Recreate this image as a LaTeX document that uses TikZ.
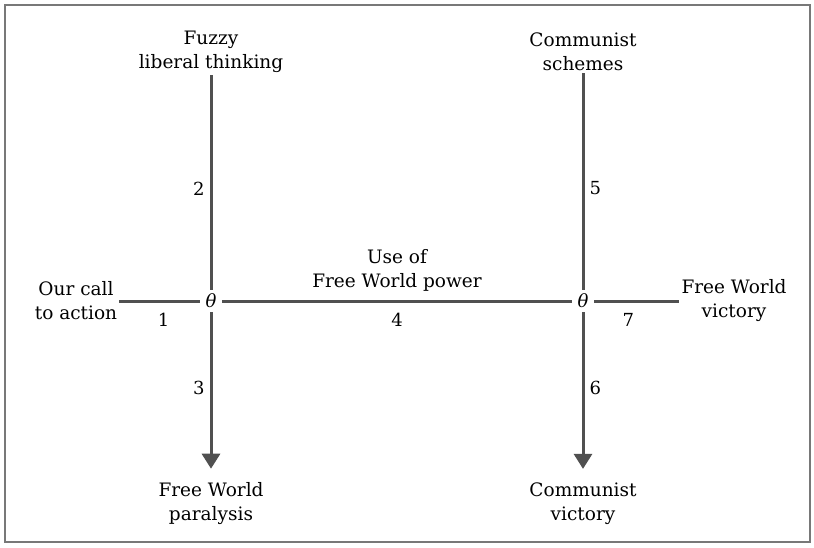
\documentclass[tikz,border=0pt]{standalone}
\usepackage{fontspec}
\setmainfont{DejaVu Serif}
\usetikzlibrary{arrows.meta,positioning}
\definecolor{inkgray}{RGB}{80,80,80}
\definecolor{framegray}{RGB}{120,120,120}

\begin{document}
\begin{tikzpicture}[x=1pt,y=-1pt,
  lbl/.style={align=center,font=\fontsize{18.5}{24}\selectfont,inner sep=2pt},
  num/.style={font=\fontsize{18}{20}\selectfont,inner sep=1pt},
  wire/.style={draw=inkgray,line width=3pt},
  arr/.style={wire,-{Triangle[length=15pt,width=18pt]},shorten >=12pt},
  junc/.style={circle,minimum size=22pt,inner sep=0pt,font=\fontsize{18}{20}\selectfont\itshape}]
\useasboundingbox (0,0) rectangle (814,547);
\draw[framegray,line width=1.5pt] (5,5) rectangle (810,542);

% junctions
\node[junc] (jl) at (211,301) {θ};
\node[junc] (jr) at (583,301) {θ};

% end labels
\node[lbl] (fuzzy) at (211,52) {Fuzzy\\liberal thinking};
\node[lbl] (schemes) at (583,52) {Communist\\schemes};
\node[lbl] (call) at (76,301) {Our call\\to action};
\node[lbl] (fwvic) at (734,301) {Free World\\victory};
\node[lbl] (paralysis) at (211,504) {Free World\\paralysis};
\node[lbl] (comvic) at (583,504) {Communist\\victory};

% connectors
\draw[wire] (call) -- node[num,below=10pt,pos=0.55] {1} (jl);
\draw[wire] (fuzzy) -- node[num,left=4pt,pos=0.53] {2} (jl);
\draw[arr] (jl) -- node[num,left=4pt,pos=0.45] {3} (paralysis);
\draw[wire] (jl) -- node[num,below=10pt] {4}
  node[lbl,above=6pt] {Use of\\Free World power} (jr);
\draw[wire] (schemes) -- node[num,right=4pt,pos=0.53] {5} (jr);
\draw[arr] (jr) -- node[num,right=4pt,pos=0.45] {6} (comvic);
\draw[wire] (jr) -- node[num,below=10pt,pos=0.4] {7} (fwvic);
\end{tikzpicture}
\end{document}
